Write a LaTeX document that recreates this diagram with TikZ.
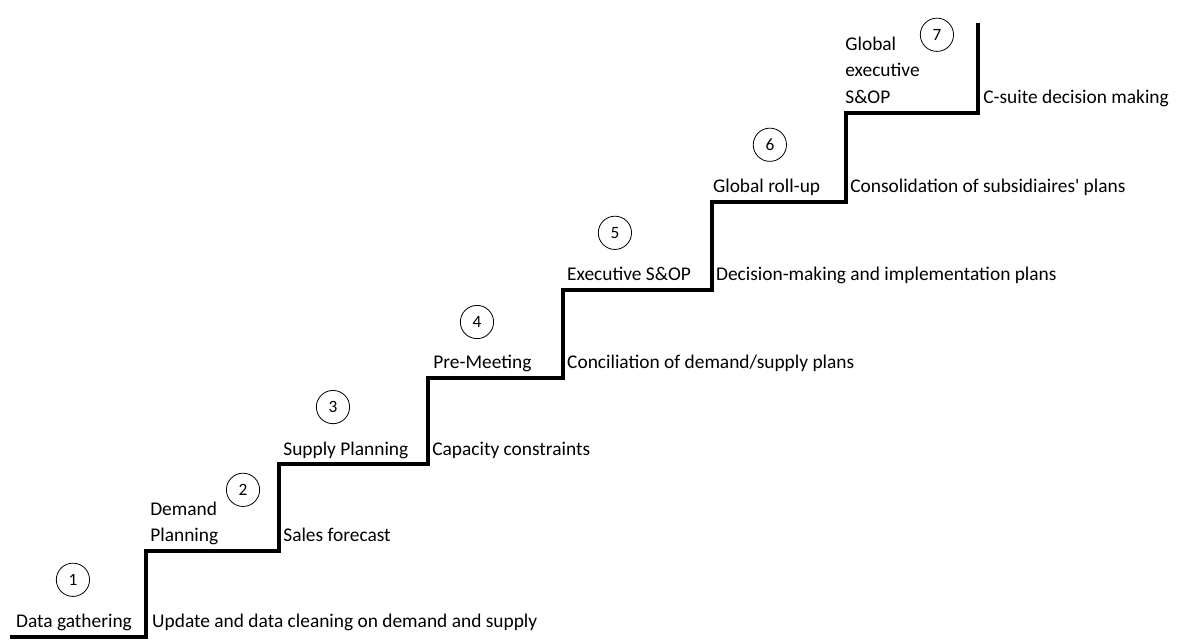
\documentclass[tikz,border=0pt]{standalone}
\usepackage{fontspec}
\setmainfont{Carlito}[Ligatures=TeXOff]
\usepackage{tikz}

\begin{document}
\begin{tikzpicture}[
    stair/.style={draw=black,line width=3pt,line join=miter},
    num/.style={draw=black,circle,line width=0.6pt,minimum size=0.88cm,
                inner sep=0pt,font=\fontsize{13}{15}\selectfont},
    lab/.style={anchor=base west,inner sep=0pt,align=left,
                font=\fontsize{14.6}{20.3}\selectfont},
    desc/.style={anchor=base west,inner sep=0pt,
                 font=\fontsize{14.6}{20.3}\selectfont},
  ]
    \useasboundingbox (0,0) rectangle (31.38,16.93);

    % the staircase
    \draw[stair] (0.26,0.08) -- (3.86,0.08) -- (3.86,2.35) -- (7.38,2.35)
      -- (7.38,4.66) -- (11.32,4.66) -- (11.32,6.93) -- (14.90,6.93)
      -- (14.90,9.26) -- (18.84,9.26) -- (18.84,11.59) -- (22.38,11.59)
      -- (22.38,13.94) -- (25.88,13.94) -- (25.88,16.32);

    % step numbers
    \node[num] (n1) at (1.93,1.59)   {1};
    \node[num] (n2) at (6.43,3.97)   {2};
    \node[num] (n3) at (8.81,6.16)   {3};
    \node[num] (n4) at (12.62,8.41)  {4};
    \node[num] (n5) at (16.27,10.77) {5};
    \node[num] (n6) at (20.37,13.10) {6};
    \node[num] (n7) at (24.79,16.01) {7};

    % step names
    \node[lab] (l1) at (0.42,0.32)   {Data gathering};
    \node[lab] (l2) at (3.97,2.59)   {Demand\\Planning};
    \node[lab] (l3) at (7.49,4.89)   {Supply Planning};
    \node[lab] (l4) at (11.46,7.17)  {Pre-Meeting};
    \node[lab] (l5) at (15.00,9.50)  {Executive S\&OP};
    \node[lab] (l6) at (18.86,11.83) {Global roll-up};
    \node[lab] (l7) at (22.36,14.18) {Global\\executive\\S\&OP};

    % what happens at each step
    \node[desc] (d1) at (4.02,0.32)  {Update and data cleaning on demand and supply};
    \node[desc] (d2) at (7.49,2.59)  {Sales forecast};
    \node[desc] (d3) at (11.43,4.89) {Capacity constraints};
    \node[desc] (d4) at (15.00,7.17) {Conciliation of demand/supply plans};
    \node[desc] (d5) at (18.94,9.50) {Decision-making and implementation plans};
    \node[desc] (d6) at (22.49,11.83) {Consolidation of subsidiaires' plans};
    \node[desc] (d7) at (26.01,14.18) {C-suite decision making};

  \end{tikzpicture}
\end{document}
